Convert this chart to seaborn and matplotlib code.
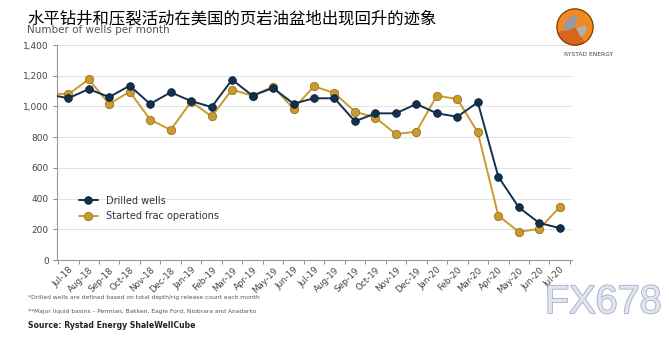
import matplotlib
matplotlib.use("Agg")
import matplotlib.pyplot as plt
import matplotlib.patheffects as pe
from matplotlib.patches import Circle, Wedge
import seaborn as sns
import pandas as pd
import numpy as np

months = ["Jun-18", "Jul-18", "Aug-18", "Sep-18", "Oct-18", "Nov-18", "Dec-18",
          "Jan-19", "Feb-19", "Mar-19", "Apr-19", "May-19", "Jun-19", "Jul-19",
          "Aug-19", "Sep-19", "Oct-19", "Nov-19", "Dec-19", "Jan-20", "Feb-20",
          "Mar-20", "Apr-20", "May-20", "Jun-20", "Jul-20"]
drilled = [1080, 1053, 1113, 1061, 1135, 1016, 1092, 1035, 996, 1174, 1070, 1120,
           1018, 1053, 1053, 903, 955, 955, 1016, 955, 933, 1027, 543, 343, 241, 208]
frac = [1086, 1079, 1176, 1016, 1096, 914, 847, 1031, 935, 1109, 1070, 1129,
        985, 1131, 1087, 966, 927, 820, 836, 1070, 1048, 831, 289, 184, 202, 345]
yticks = [0, 200, 400, 600, 800, 1000, 1200, 1400]

sns.set_theme(style="white")
plt.rcParams['font.family'] = ['Noto Sans CJK SC', 'DejaVu Sans']

pos = np.arange(len(months)) - 1  # Jul-18 at 0
df = pd.DataFrame({"pos": pos, "Drilled wells": drilled,
                   "Started frac operations": frac})

fig = plt.figure(figsize=(6.69, 3.38), dpi=100)
ax = fig.add_axes([57/669, 1-260/338, (572-57)/669, (260-45)/338])

navy = "#12314f"
gold = "#c89b2c"
sns.lineplot(data=df, x="pos", y="Drilled wells", ax=ax, color=navy, lw=1.4,
             marker="o", markersize=5.5, markeredgecolor="#0b2036",
             markeredgewidth=0.6, label="Drilled wells", zorder=4)
sns.lineplot(data=df, x="pos", y="Started frac operations", ax=ax, color=gold,
             lw=1.4, marker="o", markersize=6, markeredgecolor="#9a7420",
             markeredgewidth=0.6, label="Started frac operations", zorder=3)

ax.set_xlim(-0.55, 24.6)
ax.set_ylim(0, 1400)
ax.set_yticks(yticks)
ax.set_yticklabels([f"{v:,}" for v in yticks], fontsize=6.5, color="#444444",
                   family="DejaVu Sans")
ax.yaxis.grid(True, color="#e4e4e4", lw=0.8)
ax.set_axisbelow(True)

ax.set_xticks(np.arange(0, 25))
ax.set_xticklabels(months[1:], rotation=45, ha="right", rotation_mode="anchor",
                   fontsize=6.3, color="#444444", family="DejaVu Sans")
ax.set_xticks(np.arange(-0.5, 25, 1), minor=True)
ax.tick_params(axis="x", which="major", length=0, pad=4)
ax.tick_params(axis="x", which="minor", length=3, color="#888888", width=0.7,
               direction="out", bottom=True)
ax.tick_params(axis="y", length=3, color="#888888", width=0.7, left=True, pad=3)
ax.set_xlabel("")
ax.set_ylabel("")
for s in ["top", "right"]:
    ax.spines[s].set_visible(False)
for s in ["left", "bottom"]:
    ax.spines[s].set_color("#999999")
    ax.spines[s].set_linewidth(0.8)

leg = ax.legend(loc="lower left", bbox_to_anchor=(0.025, 0.14), frameon=False,
                handlelength=2.0, labelspacing=0.55,
                prop={"family": "DejaVu Sans", "size": 7})
for t in leg.get_texts():
    t.set_color("#333333")

# header texts
fig.text(27/669, 1-30/338, "Number of wells per month", fontsize=7.5,
         color="#555555", va="center", ha="left", family="DejaVu Sans")
fig.text(27/669, 1-19/338, "水平钻井和压裂活动在美国的页岩油盆地出现回升的迹象",
         fontsize=11.8, color="black", va="center", ha="left")

# footnotes
fig.text(28/669, 1-298/338,
         "*Drilled wells are defined based on total depth/rig release count each month",
         fontsize=4.3, color="#555555", va="center", family="DejaVu Sans")
fig.text(28/669, 1-311/338,
         "**Major liquid basins \u2013 Permian, Bakken, Eagle Ford, Niobrara and Anadarko",
         fontsize=4.3, color="#555555", va="center", family="DejaVu Sans")
fig.text(28/669, 1-325/338, "Source: Rystad Energy ShaleWellCube",
         fontsize=5.6, color="#222222", va="center", fontweight="bold",
         family="DejaVu Sans")

# watermark
fig.text(545/669, 1-302/338, "FX678", fontsize=28.5, color="#e1e5f0",
         va="center", ha="left", family="Liberation Sans",
         path_effects=[pe.withStroke(linewidth=1.3, foreground="#a9b2c8")])

# logo
lax = fig.add_axes([556/669, 1-46/338, 38/669, 38/338])
lax.set_xlim(-1, 1); lax.set_ylim(-1, 1); lax.set_aspect("equal"); lax.axis("off")
lax.add_patch(Circle((0, 0), 0.95, color="#f08a24"))
lax.add_patch(Wedge((0, 0), 0.95, 200, 300, color="#d9661a"))
lax.add_patch(Wedge((0, 0), 0.55, 80, 200, color="#9a9a9a"))
lax.add_patch(Wedge((0.1, -0.1), 0.45, 300, 20, color="#b0b0b0"))
lax.add_patch(Circle((0, 0), 0.95, fill=False, ec="#7a3d10", lw=0.8))
fig.text(589/669, 1-55/338, "RYSTAD ENERGY", fontsize=4.3, color="#444444",
         ha="center", va="center", family="DejaVu Sans")

fig.savefig("out.png", dpi=100)
